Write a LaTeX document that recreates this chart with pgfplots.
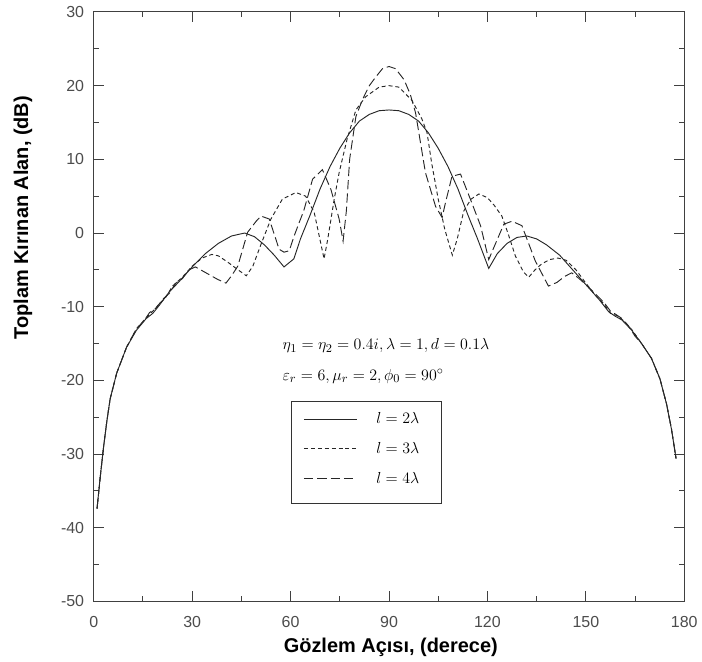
\documentclass[border=0pt]{standalone}
\usepackage{fontspec}
\setmainfont{Liberation Sans}
\usepackage{pgfplots}
\pgfplotsset{compat=1.18}
\begin{document}
\begin{tikzpicture}
\begin{axis}[
  scale only axis, width=444pt, height=443.25pt,
  xmin=0, xmax=180, ymin=-50, ymax=30,
  xtick={0,30,...,180}, ytick={-50,-40,...,30},
  minor x tick num=1, minor y tick num=1,
  tick align=inside,
  major tick length=7.5pt, minor tick length=3.75pt,
  axis line style={black!75, line width=0.75pt},
  every tick/.style={black!75, line width=0.75pt},
  tick label style={font=\fontsize{12}{14}\selectfont, text=black!70},
  xticklabel style={yshift=-8pt},
  yticklabel style={xshift=-3.75pt},
  /pgf/number format/assume math mode=true,
  xlabel={Gözlem Açısı, (derece)},
  ylabel={Toplam Kırınan Alan, (dB)},
  label style={font=\fontsize{15}{18}\selectfont\bfseries},
  xlabel style={at={(axis description cs:0.503,-0.078)}, anchor=center},
  ylabel style={at={(axis description cs:-0.12,0.651)}, anchor=center},
  clip=false,
  legend style={draw=none, fill=none, at={(0.348,0.330)}, anchor=north west,
    font=\fontsize{13}{15}\selectfont, row sep=8.5pt,
    /tikz/every odd column/.append style={column sep=12pt}},
  legend cell align=left,
  legend image code/.code={\draw[#1] (0pt,0pt) -- (40pt,0pt);},
]
\addplot[black!85, line width=0.7pt] coordinates {
(1,-37.4)(2,-33)(3,-29)(4,-25.5)(5,-22.5)(7,-19)(10,-15.5)(13,-13.2)(16,-11.6)(18,-10.9)(20,-9.8)(23,-8)(26,-6.6)(30,-4.6)(34,-2.8)(38,-1.4)(42,-0.4)(46,0)(49,-0.5)(52,-1.6)(55,-3)(58,-4.6)(61,-3.5)(63,-0.8)(66,2.5)(69,6)(72,9)(75,11.5)(78,13.6)(81,15.2)(84,16.1)(87,16.6)(90,16.7)(93,16.6)(96,16.1)(99,15.2)(102,13.6)(105,11.5)(108,9)(111,6)(114,2.5)(117,-0.8)(120.4,-4.8)(123,-2.8)(126,-1.4)(129,-0.6)(132,-0.4)(135,-0.8)(138,-1.6)(142,-3)(146,-5)(150,-7)(154,-9)(157,-10.7)(159,-11.3)(161,-11.8)(164,-13.2)(167,-15)(170,-17)(172.6,-19.8)(174.6,-23.2)(176.1,-26.6)(177.5,-30.6)
};
\addlegendentry{$l=2\lambda$}
\addplot[black!85, line width=0.7pt, dash pattern=on 3pt off 2.2pt] coordinates {
(1,-37.4)(2,-33)(3,-29)(4,-25.5)(5,-22.5)(7,-19)(10,-15.5)(13,-13)(16,-11.5)(18,-10.6)(20,-9.6)(22,-8.7)(24,-7.2)(27,-6)(30,-4.5)(33,-3.4)(36,-2.9)(38,-3.1)(41,-4)(44,-5)(46.5,-5.8)(48.5,-4.5)(51,-1.5)(54,1.9)(57.5,4.6)(61.6,5.5)(64.6,5)(67.2,2.8)(70.2,-3.5)(71.3,-0.9)(73.3,4.6)(74.8,8.2)(77.2,12.7)(79.9,16.7)(82.9,18.5)(87,19.8)(90,20)(93,19.8)(97,18)(100,15.5)(101.6,13.6)(103,9.5)(105,4.6)(107,0.5)(109.3,-3)(110.8,-0.8)(112.8,3)(115,4.6)(117.4,5.3)(120,4.8)(122,3.8)(124.4,2.3)(126.4,-0.2)(128.5,-3.1)(131,-5.3)(132.6,-6)(134.5,-5)(136.5,-4.2)(139,-3.6)(141.5,-3.4)(144,-3.7)(147,-5)(150,-6.8)(153,-8.5)(155.5,-9.6)(157.5,-10.9)(159.5,-11.2)(161.5,-11.9)(164,-13.1)(167,-15)(170,-17)(172.6,-19.8)(174.6,-23.2)(176.1,-26.6)(177.5,-30.6)
};
\addlegendentry{$l=3\lambda$}
\addplot[black!85, line width=0.7pt, dash pattern=on 7pt off 3pt] coordinates {
(1,-37.4)(2,-33)(3,-29)(4,-25.5)(5,-22.5)(7,-19)(10,-15.5)(13,-13)(15.5,-11.8)(17,-10.8)(19,-10.2)(21,-9)(23,-8.2)(25,-6.8)(27,-6.2)(29,-5)(31,-4.6)(32.2,-4.9)(35,-5.6)(37.8,-6.3)(40.3,-6.8)(42,-5.8)(43.9,-4.5)(46.9,0.1)(49.5,1.6)(51,2.3)(53.5,1.9)(56.5,-2.2)(58,-2.6)(59.6,-2.4)(61,-0.5)(62.6,1.4)(64,3)(66.7,7.3)(69.7,8.6)(72.3,5.9)(74.8,1.9)(76,-1.1)(77,3)(78,10)(79.9,15.8)(81.9,18.1)(84,20)(86,21.2)(88,22.3)(90,22.6)(92,22.3)(94.6,20.8)(96.5,18.8)(98.1,16.3)(101.1,8.2)(104.2,3.6)(106.2,2.1)(107.2,4.1)(109.2,7.7)(111.8,8)(114.8,4.6)(117.9,1)(120.4,-3.6)(122.4,-1.5)(125,1.2)(127.5,1.6)(130.5,1)(134.6,-3.8)(138.6,-7.2)(141.2,-6.7)(143.5,-5.9)(145.7,-5.4)(148,-6.2)(150.5,-7.2)(153,-8.3)(155.5,-9.4)(157.5,-10.6)(159,-11)(161,-11.6)(163,-12.6)(165,-14)(167,-15)(170,-17)(172.6,-19.8)(174.6,-23.2)(176.1,-26.6)(177.5,-30.6)
};
\addlegendentry{$l=4\lambda$}
\node[anchor=west, font=\fontsize{13}{15}\selectfont, inner sep=0pt] at (axis cs:57.5,-15.3) {$\eta_1=\eta_2=0.4i,\lambda=1,d=0.1\lambda$};
\node[anchor=west, font=\fontsize{13}{15}\selectfont, inner sep=0pt] at (axis cs:57.5,-19.4) {$\varepsilon_r=6,\mu_r=2,\phi_0=90^\circ$};
\draw[black!80, line width=0.75pt] (axis cs:60.2,-22.8) rectangle (axis cs:106.1,-36.7);
\end{axis}
\path (current axis.south west) ++(-70.5pt,-44.25pt) rectangle ([xshift=12pt,yshift=9pt]current axis.north east);
\end{tikzpicture}
\end{document}
